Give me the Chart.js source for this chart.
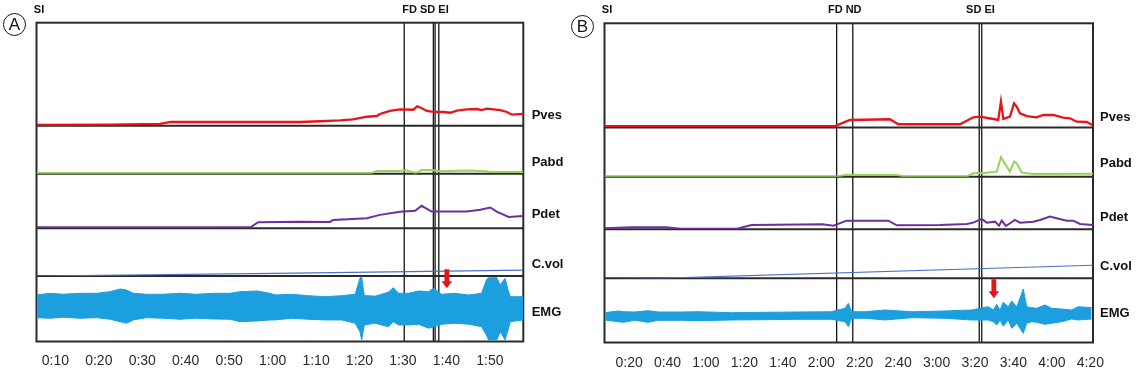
<!DOCTYPE html>
<html><head><meta charset="utf-8">
<script src="https://cdn.jsdelivr.net/npm/chart.js@4.4.1/dist/chart.umd.min.js"></script>
<style>
html,body{margin:0;padding:0;background:#fff;}
#wrap{position:relative;width:1138px;height:370px;overflow:hidden;background:#fff;}
#wrap canvas{position:absolute;top:0;}
.badge{position:absolute;width:23px;height:23px;border:1.2px solid #111;border-radius:50%;box-sizing:border-box;
  font:17px "Liberation Sans",Arial,sans-serif;line-height:21px;text-align:center;color:#111;}
</style></head>
<body>
<div id="wrap">
  <canvas id="cA" width="569" height="370" style="left:0"></canvas>
  <canvas id="cB" width="569" height="370" style="left:569px"></canvas>
  <div class="badge" style="left:3px;top:13px">A</div>
  <div class="badge" style="left:571px;top:15px">B</div>
</div>
<script>
// ---------- shared ----------
const laneNames = ['Pves', 'Pabd', 'Pdet', 'C.vol', 'EMG'];

// ---------- Panel A (time in s) ----------
const tickSecA = [10, 20, 30, 40, 50, 60, 70, 80, 90, 100, 110];
const tickLabelsA = ['0:10', '0:20', '0:30', '0:40', '0:50', '1:00', '1:10', '1:20', '1:30', '1:40', '1:50'];
const eventSecA = [90.3, 97.0, 97.4, 98.25];
const eventLabelsA = ['FD', 'SD', '', 'EI'];
const startLabelA = 'SI';
const arrowSecA = 100.1;      // red arrow time
const arrowTipA = 52.5;       // EMG value at arrow tip (µV)

const pvesTA = [5.7, 22.4, 34.1, 36.6, 47.4, 66.3, 70.9, 75.5, 78.5, 81.7, 84.0, 84.7, 87.0, 89.3, 92.4, 93.3, 93.9, 95.5, 96.6, 99.3, 100.9, 102.4, 104.7, 107.0, 108.1, 109.3, 112.4, 113.9, 115.1, 117.7];
const pvesVA = [0.8, 1.0, 1.7, 3.6, 3.6, 3.6, 4.3, 5.2, 6.2, 8.7, 9.4, 11.4, 14.3, 15.9, 15.5, 18.8, 17.9, 14.3, 13.6, 13.3, 12.6, 14.6, 15.9, 16.2, 15.2, 16.5, 15.2, 13.3, 10.7, 11.4];

const pabdTA = [5.7, 82.8, 84.0, 89.3, 90.7, 91.6, 92.7, 93.5, 94.3, 96.6, 98.5, 104.7, 109.3, 110.0, 117.7];
const pabdVA = [0.7, 0.7, 2.7, 2.7, 3.4, 2.2, 0.9, 1.5, 3.7, 3.7, 2.4, 3.2, 2.4, 1.7, 1.7];

const pdetTA = [5.7, 43.3, 55.0, 56.7, 66.3, 73.2, 73.9, 81.7, 84.7, 89.3, 92.8, 94.3, 96.6, 104.7, 107.8, 110.1, 111.6, 114.3, 117.7];
const pdetVA = [1.0, 1.0, 1.2, 5.9, 6.5, 6.2, 8.2, 9.9, 13.2, 16.2, 17.2, 22.2, 16.5, 16.5, 18.2, 20.5, 16.5, 11.2, 12.2];

const cvolTA = [5.7, 60.6, 117.7];
const cvolVA = [0, 28, 62];

const emgTA = [5.7, 8.8, 11.8, 15.7, 19.5, 22.6, 24.9, 26.4, 27.9, 31.0, 34.9, 38.7, 42.5, 46.4, 50.2, 52.5, 56.4, 59.4, 60.6, 64.4, 68.2, 72.1, 75.9, 79.0, 80.1, 80.5, 81.1, 83.6, 86.6, 87.8, 89.0, 91.3, 93.6, 95.9, 97.0, 98.9, 102.0, 105.1, 108.1, 109.2, 109.7, 111.6, 112.4, 113.5, 114.2, 114.7, 117.7];
const emgHiA = [32, 37.2, 34.2, 37.2, 37.2, 42.1, 50.3, 47.3, 37.2, 34.2, 34.2, 37.2, 34.2, 37.2, 37.2, 42.1, 44.2, 37.2, 32, 34.2, 29.9, 26.8, 29.9, 34.2, 83, 87.8, 30.5, 28.4, 40.3, 54.3, 37.2, 37.2, 44.2, 42.1, 52.5, 34.2, 37.2, 32, 37.2, 77.8, 84.8, 84.8, 62.5, 83, 47.3, 26.8, 26.8];
const emgLoA = [-37.2, -39, -36, -39, -37.2, -42.1, -49.4, -54.3, -44.2, -37.2, -39, -42.1, -39, -41.2, -42.1, -49.4, -47.3, -44.2, -44.2, -39, -42.1, -44.2, -44.2, -54.3, -79.9, -105.2, -59.5, -54.3, -64.7, -49.4, -59.5, -59.5, -57.3, -69.5, -64.7, -57.3, -54.3, -57.3, -64.7, -90, -105.2, -105.2, -79.9, -105.2, -74.7, -49.4, -44.2];

// ---------- Panel B (time in s) ----------
const tickSecB = [20, 40, 60, 80, 100, 120, 140, 160, 180, 200, 220, 240, 260];
const tickLabelsB = ['0:20', '0:40', '1:00', '1:20', '1:40', '2:00', '2:20', '2:40', '3:00', '3:20', '3:40', '4:00', '4:20'];
const eventSecB = [128.0, 136.4, 202.2, 203.5];
const eventLabelsB = ['FD', 'ND', 'SD', 'EI'];
const startLabelB = 'SI';
const arrowSecB = 209.8;
const arrowTipB = 54.9;

const pvesTB = [7.2, 127.2, 134.9, 155.7, 160.1, 192.2, 199.1, 202.6, 208.7, 212.1, 213.5, 214.7, 218.2, 220.3, 221.7, 223.4, 226.9, 232.1, 235.5, 240.7, 245.9, 249.4, 252.9, 258.1, 261.4];
const pvesVB = [1.4, 1.4, 7.2, 7.9, 3.1, 3.1, 9.8, 10.4, 8.4, 7.2, 24.8, 8.2, 10.4, 23.2, 20.0, 13.6, 11.0, 9.8, 12.0, 12.0, 9.4, 8.8, 5.6, 5.3, 2.1];

const pabdTB = [7.2, 128.0, 132.4, 159.3, 163.6, 195.7, 199.1, 206.1, 211.3, 213.5, 216.5, 218.2, 220.3, 221.7, 224.3, 230.3, 261.4];
const pabdVB = [0.3, 0.3, 1.8, 1.8, 0.3, 0.3, 3.5, 4.1, 5.1, 19.5, 10.1, 5.1, 15.1, 13.5, 4.1, 2.8, 3.1];

const pdetTB = [7.2, 21.3, 39.2, 46.8, 76.2, 83.7, 120.6, 126.3, 133.2, 154.9, 159.3, 181.8, 195.7, 199.1, 203.5, 206.1, 210.4, 212.5, 213.9, 216.1, 218.2, 220.8, 223.4, 230.3, 233.8, 239.0, 242.5, 247.7, 251.1, 254.6, 261.4];
const pdetVB = [0.9, 1.9, 1.9, 0.5, 0.5, 4.2, 4.9, 3.5, 8.5, 8.5, 3.9, 4.2, 5.2, 6.5, 10.2, 6.5, 7.5, 3.5, 8.5, 3.2, 5.9, 9.2, 6.5, 7.5, 9.2, 12.5, 10.9, 8.5, 8.5, 5.2, 4.2];

const cvolTB = [7.2, 261.4];
const cvolVB = [0, 150];

const emgTB = [7.3, 14.3, 16.9, 22.9, 29.9, 35.1, 47.2, 55.9, 73.2, 90.6, 107.9, 125.2, 132.4, 134.1, 135.8, 142.8, 153.2, 167.1, 184.4, 198.3, 202.6, 206.9, 209.5, 211.3, 213.0, 214.7, 217.3, 219.1, 221.7, 223.4, 225.1, 226.9, 229.5, 232.1, 236.4, 239.9, 245.1, 250.3, 253.7, 260.7];
const emgHiB = [11, 16.2, 14, 13.1, 17.1, 13.1, 13.1, 14, 11, 12.2, 13.1, 14, 24.4, 39.7, 14, 14, 19.2, 14, 16.2, 19.2, 24.4, 29.3, 19.2, 36.6, 19.2, 42.7, 29.3, 46.7, 29.3, 54.9, 83.3, 29.3, 26.2, 24.4, 34.5, 24.4, 22.3, 19.2, 29.3, 26.2];
const emgLoB = [-11.3, -16.5, -18.3, -12.2, -18.3, -12.2, -12.2, -13.4, -11.3, -10.4, -9.2, -9.2, -16.5, -31.7, -6.1, -6.1, -11.3, -4.3, -6.1, -11.3, -11.3, -11.3, -16.5, -26.5, -11.3, -29.6, -11.3, -36.6, -21.4, -36.6, -51.9, -21.4, -16.5, -18.3, -24.4, -21.4, -16.5, -8.2, -11.3, -8.2];

// ---------- styling (not data) ----------
const COLORS = { pves: '#e8141c', pabd: '#97d35a', pdet: '#6f2e9e', cvol: '#4a6fcf', emg: '#1c9fdf' };
const laneIds = ['pves', 'pabd', 'pdet', 'cvol', 'emg'];

const styleA = {
  padding: { left: 36.5, right: 45.7, top: 22.7, bottom: 0 },
  xHeight: 28.5, xMin: 5.66, xMax: 117.7, tickPad: 11.2,
  weights: [103, 48, 54.5, 47.8, 65.5],
  ranges: [[0, 100], [0, 48], [0, 54], [0, 500], [-110, 90]],
  labelDy: [10.5, 10.8, 13.5, 11.5, 29.5],
  labelDx: 8.4,
  groups: [[0, 1, 2, 3]]
};
const styleB = {
  padding: { left: 35.5, right: 45, top: 23.3, bottom: 0 },
  xHeight: 27.5, xMin: 7.2, xMax: 261.4, tickPad: 11.8,
  weights: [104.2, 49.3, 52.4, 49.1, 64.2],
  ranges: [[0, 100], [0, 49], [0, 52], [17, 517], [-80, 116]],
  labelDy: [9.6, 13.5, 11.3, 12.2, 29.5],
  labelDx: 7,
  groups: [[0, 1], [2, 3]]
};

const pts = (T, V) => T.map((t, i) => ({ x: t, y: V[i] }));

const tracePlugin = {
  id: 'trace',
  beforeDatasetsDraw(chart, args, o) {
    const ctx = chart.ctx, a = chart.chartArea, xs = chart.scales.x;
    ctx.save();
    ctx.strokeStyle = '#151515';
    ctx.lineWidth = 1.3;
    o.eventSec.forEach(t => {
      const px = xs.getPixelForValue(t);
      ctx.beginPath(); ctx.moveTo(px, a.top); ctx.lineTo(px, a.bottom); ctx.stroke();
    });
    ctx.strokeStyle = '#2a2a2a';
    ctx.lineWidth = 2;
    laneIds.slice(0, -1).forEach(id => {
      const y = chart.scales[id].bottom;
      ctx.beginPath(); ctx.moveTo(a.left, y); ctx.lineTo(a.right, y); ctx.stroke();
    });
    ctx.strokeRect(a.left, a.top, a.right - a.left, a.bottom - a.top);
    ctx.restore();
  },
  afterDatasetsDraw(chart, args, o) {
    const ctx = chart.ctx, a = chart.chartArea, xs = chart.scales.x;
    ctx.save();
    const ax = xs.getPixelForValue(o.arrowSec);
    const tip = chart.scales.emg.getPixelForValue(o.arrowTip);
    const len = 19, sw = 2.4, hw = 5.3, hl = 7;
    ctx.fillStyle = '#e8141c';
    ctx.beginPath();
    ctx.moveTo(ax - sw, tip - len); ctx.lineTo(ax + sw, tip - len);
    ctx.lineTo(ax + sw, tip - hl); ctx.lineTo(ax + hw, tip - hl);
    ctx.lineTo(ax, tip); ctx.lineTo(ax - hw, tip - hl);
    ctx.lineTo(ax - sw, tip - hl); ctx.closePath(); ctx.fill();
    ctx.fillStyle = '#111';
    ctx.font = 'bold 11px "Liberation Sans", Arial, sans-serif';
    ctx.textAlign = 'center'; ctx.textBaseline = 'middle';
    ctx.fillText(o.startLabel, a.left + 2.5, a.top - 13);
    o.groups.forEach(g => {
      const named = g.filter(i => o.eventLabels[i]);
      const cx = named.reduce((s, i) => s + xs.getPixelForValue(o.eventSec[i]), 0) / named.length;
      ctx.fillText(named.map(i => o.eventLabels[i]).join(' '), cx, a.top - 13);
    });
    ctx.font = 'bold 13px "Liberation Sans", Arial, sans-serif';
    ctx.textAlign = 'left';
    laneIds.forEach((id, i) => {
      ctx.fillText(laneNames[i], a.right + o.labelDx, chart.scales[id].bottom - o.labelDy[i]);
    });
    ctx.restore();
  }
};

function makeChart(canvasId, d, s) {
  const scales = {
    x: {
      type: 'linear', min: s.xMin, max: s.xMax,
      grid: { display: false, drawTicks: false }, border: { display: false },
      afterBuildTicks: sc => { sc.ticks = d.tickSec.map(v => ({ value: v })); },
      afterFit: sc => { sc.height = s.xHeight; },
      ticks: {
        autoSkip: false, maxRotation: 0, minRotation: 0, padding: s.tickPad,
        color: '#2b2b2b', font: { family: '"Liberation Sans", Arial, sans-serif', size: 14 },
        callback: (v, i) => d.tickLabels[i]
      }
    }
  };
  laneIds.forEach((id, i) => {
    scales[id] = {
      type: 'linear', position: 'right', stack: 'lanes', stackWeight: s.weights[i],
      min: s.ranges[i][0], max: s.ranges[i][1], offset: false,
      grid: { display: false, drawTicks: false }, border: { display: false },
      ticks: { display: false }, afterFit: sc => { sc.width = 0; }
    };
  });
  const line = (label, data, axis, color, w) => ({
    label, data, yAxisID: axis, borderColor: color, backgroundColor: color,
    borderWidth: w, pointRadius: 0, tension: 0, fill: false
  });
  const datasets = [
    line('Pves', pts(d.pvesT, d.pvesV), 'pves', COLORS.pves, 2.3),
    line('Pabd', pts(d.pabdT, d.pabdV), 'pabd', COLORS.pabd, 2),
    line('Pdet', pts(d.pdetT, d.pdetV), 'pdet', COLORS.pdet, 2),
    line('C.vol', pts(d.cvolT, d.cvolV), 'cvol', COLORS.cvol, 1.2),
    line('EMG', pts(d.emgT, d.emgHi), 'emg', COLORS.emg, 1),
    Object.assign(line('EMG-', pts(d.emgT, d.emgLo), 'emg', COLORS.emg, 1), { fill: '-1' })
  ];
  return new Chart(document.getElementById(canvasId), {
    type: 'line',
    data: { datasets },
    options: {
      responsive: false, animation: false, devicePixelRatio: 1,
      layout: { padding: s.padding },
      scales,
      plugins: {
        legend: { display: false }, tooltip: { enabled: false },
        trace: {
          eventSec: d.eventSec, eventLabels: d.eventLabels, startLabel: d.startLabel,
          arrowSec: d.arrowSec, arrowTip: d.arrowTip,
          groups: s.groups, labelDy: s.labelDy, labelDx: s.labelDx
        }
      }
    },
    plugins: [tracePlugin]
  });
}

makeChart('cA', {
  tickSec: tickSecA, tickLabels: tickLabelsA, eventSec: eventSecA, eventLabels: eventLabelsA,
  startLabel: startLabelA, arrowSec: arrowSecA, arrowTip: arrowTipA,
  pvesT: pvesTA, pvesV: pvesVA, pabdT: pabdTA, pabdV: pabdVA, pdetT: pdetTA, pdetV: pdetVA,
  cvolT: cvolTA, cvolV: cvolVA, emgT: emgTA, emgHi: emgHiA, emgLo: emgLoA
}, styleA);

makeChart('cB', {
  tickSec: tickSecB, tickLabels: tickLabelsB, eventSec: eventSecB, eventLabels: eventLabelsB,
  startLabel: startLabelB, arrowSec: arrowSecB, arrowTip: arrowTipB,
  pvesT: pvesTB, pvesV: pvesVB, pabdT: pabdTB, pabdV: pabdVB, pdetT: pdetTB, pdetV: pdetVB,
  cvolT: cvolTB, cvolV: cvolVB, emgT: emgTB, emgHi: emgHiB, emgLo: emgLoB
}, styleB);
</script>
</body></html>
